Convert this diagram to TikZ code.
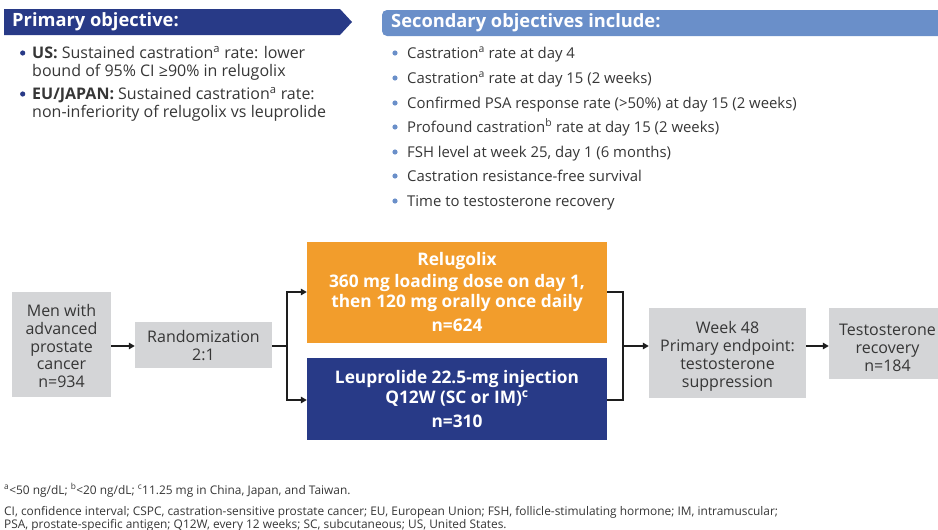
\documentclass[tikz,border=0pt]{standalone}
\usepackage{fontspec}
\setmainfont{Open Sans}
\newfontfamily\notefont{Open Sans}
\usetikzlibrary{arrows.meta}
\definecolor{navy}{HTML}{283A87}
\definecolor{skyblue}{HTML}{6A8FC9}
\definecolor{orangebox}{HTML}{F29D2C}
\definecolor{graybox}{HTML}{D4D5D7}
\definecolor{txt}{HTML}{363636}
\definecolor{arrowc}{HTML}{1E1E1E}
\tikzset{
  hdr/.style={anchor=west, text=white, font=\fontsize{18.3}{22}\selectfont\bfseries, inner sep=0pt},
  bulA/.style={anchor=base west, text=txt, font=\fontsize{16}{18}\selectfont, inner sep=0pt},
  bul/.style={anchor=base west, text=txt, font=\fontsize{14.9}{18}\selectfont, inner sep=0pt},
  gbox/.style={fill=graybox, inner sep=0pt},
  gtext/.style={text=txt, align=center, inner sep=0pt, font=\fontsize{16}{17.9}\selectfont},
  cbox/.style={text=white, align=center, inner sep=0pt, font=\fontsize{17.3}{20}\selectfont\bfseries},
  conn/.style={draw=arrowc, line width=1.8pt},
  arr/.style={conn, -{Triangle[length=6pt,width=6.5pt]}},
  note/.style={anchor=base west, text=txt, font=\notefont\fontsize{11.9}{13}\selectfont, inner sep=0pt},
}
\begin{document}
\begin{tikzpicture}[x=1pt,y=-1pt]
\useasboundingbox (0,0) rectangle (938,530);
% headers
\fill[navy] (4,9) -- (340,9) -- (352,22) -- (340,35) -- (4,35) -- cycle;
\node[hdr] (h1) at (12,22) {Primary objective:};
\fill[skyblue, rounded corners=5pt] (382,10) rectangle (944,36);
\node[hdr] (h2) at (391,23) {Secondary objectives include:};
% primary bullets
\foreach \y in {53,94} \fill[navy] (22.7,\y) circle (2.6pt);
\node[bulA] (p1) at (32,58.5) {\textbf{US:} Sustained castration\textsuperscript{a} rate: lower};
\node[bulA] (p2) at (32,76.5) {bound of 95\% CI ≥90\% in relugolix};
\node[bulA] (p3) at (32,99.5) {\textbf{EU/JAPAN:} Sustained castration\textsuperscript{a} rate:};
\node[bulA] (p4) at (32,117.5) {non-inferiority of relugolix vs leuprolide};
% secondary bullets
\foreach \y in {53,78,103,127,152,176,201} \fill[skyblue] (395,\y) circle (2.6pt);
\node[bul] (s1) at (407,58) {Castration\textsuperscript{a} rate at day 4};
\node[bul] (s2) at (407,83) {Castration\textsuperscript{a} rate at day 15 (2 weeks)};
\node[bul] (s3) at (407,108) {Confirmed PSA response rate (>50\%) at day 15 (2 weeks)};
\node[bul] (s4) at (407,132) {Profound castration\textsuperscript{b} rate at day 15 (2 weeks)};
\node[bul] (s5) at (407,157) {FSH level at week 25, day 1 (6 months)};
\node[bul] (s6) at (407,181) {Castration resistance-free survival};
\node[bul] (s7) at (407,206) {Time to testosterone recovery};
% flow boxes
\node[gbox, minimum width=99pt, minimum height=105pt] (men) at (61.5,344.5) {};
\node[gtext] (ment) at (61.5,346) {Men with\\advanced\\prostate\\cancer\\n=934};
\node[gbox, minimum width=137pt, minimum height=46pt] (rand) at (203.5,345) {};
\node[gtext] (randt) at (203.5,345.5) {Randomization\\2:1};
\node[cbox, fill=orangebox, minimum width=300pt, minimum height=101pt] (rel) at (457,292.5)
  {Relugolix\\[2pt]360 mg loading dose on day 1,\\then 120 mg orally once daily\\[4pt]n=624};
\node[cbox, fill=navy, minimum width=300pt, minimum height=82pt] (leu) at (457,399)
  {Leuprolide 22.5-mg injection\\Q12W (SC or IM)\textsuperscript{c}\\[4pt]n=310};
\node[gbox, minimum width=157pt, minimum height=90pt] (wk) at (727.5,353) {};
\node[gtext] (wkt) at (727.5,356.5) {Week 48\\Primary endpoint:\\testosterone\\suppression};
\node[gbox, minimum width=111pt, minimum height=71pt] (test) at (884.5,343.5) {};
\node[gtext] (testt) at (887.5,348) {Testosterone\\recovery\\n=184};
% connectors
\coordinate (j1) at (287,346);
\coordinate (j2) at (623,346);
\draw[arr] (men.east |- 0,346) -- (rand.west |- 0,346);
\draw[conn] (rand.east |- 0,346) -- (j1);
\draw[arr] (j1) -- (287,292) -- (rel.west |- 0,292);
\draw[arr] (j1) -- (287,400) -- (leu.west |- 0,400);
\draw[conn] (rel.east |- 0,292) -- (623,292) -- (j2);
\draw[conn] (leu.east |- 0,400) -- (623,400) -- (j2);
\draw[arr] (j2) -- (wk.west |- 0,346);
\draw[arr] (wk.east |- 0,346) -- (test.west |- 0,346);
% footnotes
\node[note] (n1) at (4,494) {\textsuperscript{a}<50 ng/dL; \textsuperscript{b}<20 ng/dL; \textsuperscript{c}11.25 mg in China, Japan, and Taiwan.};
\node[note] (n2) at (4,515) {CI, confidence interval; CSPC, castration-sensitive prostate cancer; EU, European Union; FSH, follicle-stimulating hormone; IM, intramuscular;};
\node[note] (n3) at (4,528) {PSA, prostate-specific antigen; Q12W, every 12 weeks; SC, subcutaneous; US, United States.};
\end{tikzpicture}
\end{document}
